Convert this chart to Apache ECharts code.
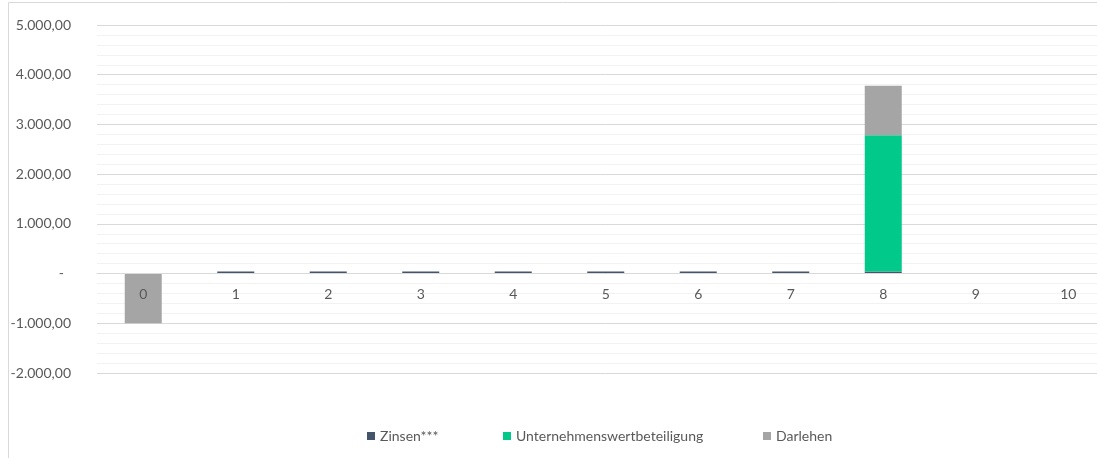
<!DOCTYPE html>
<html>
<head>
<meta charset="utf-8">
<script src="https://cdn.jsdelivr.net/npm/echarts@6/dist/echarts.min.js"></script>
<style>
html,body{margin:0;padding:0;background:#fff;overflow:hidden;}
#c{width:1115px;height:458px;}
</style>
</head>
<body>
<div id="c"></div>
<script>
var categories = ['0','1','2','3','4','5','6','7','8','9','10'];
var zinsen = [0, 40, 40, 40, 40, 40, 40, 40, 40, 0, 0];
var unternehmenswert = [0, 0, 0, 0, 0, 0, 0, 0, 2740, 0, 0];
var darlehen = [-1000, 0, 0, 0, 0, 0, 0, 0, 1000, 0, 0];
var seriesNames = ['Zinsen***', 'Unternehmenswertbeteiligung', 'Darlehen'];
var yTicks = {min: -2000, max: 5000, interval: 1000};

function fmt(v) {
  if (v === 0) return '-  ';
  var neg = v < 0;
  var s = Math.abs(v).toFixed(2).split('.');
  var intPart = s[0].replace(/\B(?=(\d{3})+(?!\d))/g, '.');
  return (neg ? '-' : '') + intPart + ',' + s[1];
}

var font = 'Lato';
var chart = echarts.init(document.getElementById('c'), null, {renderer: 'canvas'});
var legendBase = {
  top: 429, itemWidth: 8, itemHeight: 8, itemGap: 5, padding: 0,
  icon: 'rect',
  textStyle: {color: '#595959', fontSize: 14, fontFamily: font}
};
chart.setOption({
  animation: false,
  backgroundColor: '#fff',
  graphic: [{
    type: 'rect', silent: true, z: -10,
    shape: {x: 8.5, y: 2.5, width: 1200, height: 600},
    style: {fill: 'none', stroke: '#d9d9d9', lineWidth: 1}
  }],
  legend: [
    Object.assign({left: 367, data: [seriesNames[0]]}, legendBase),
    Object.assign({left: 503, data: [seriesNames[1]]}, legendBase),
    Object.assign({left: 763, data: [seriesNames[2]]}, legendBase)
  ],
  grid: {left: 97, right: 0.5, top: 25, bottom: 85, containLabel: false},
  xAxis: {
    type: 'category', data: categories, z: 10,
    offset: -100,
    axisLine: {onZero: false, lineStyle: {color: '#d9d9d9'}},
    axisTick: {show: false},
    axisLabel: {color: '#595959', fontSize: 14, fontFamily: font, margin: 14},
    splitLine: {show: false}
  },
  yAxis: {
    type: 'value', min: yTicks.min, max: yTicks.max, interval: yTicks.interval,
    axisLine: {show: false}, axisTick: {show: false},
    axisLabel: {color: '#595959', fontSize: 14, fontFamily: font, margin: 26, formatter: fmt},
    splitLine: {lineStyle: {color: '#d9d9d9', width: 1}},
    minorTick: {show: false, splitNumber: 5},
    minorSplitLine: {show: true, lineStyle: {color: '#f2f2f2', width: 1}}
  },
  series: [
    {name: seriesNames[0], type: 'bar', stack: 'a', data: zinsen, barWidth: 37, itemStyle: {color: '#44546a'}},
    {name: seriesNames[1], type: 'bar', stack: 'a', data: unternehmenswert, barWidth: 37, itemStyle: {color: '#00c98a'}},
    {name: seriesNames[2], type: 'bar', stack: 'a', data: darlehen, barWidth: 37, itemStyle: {color: '#a5a5a5'}}
  ]
});
</script>
</body>
</html>
